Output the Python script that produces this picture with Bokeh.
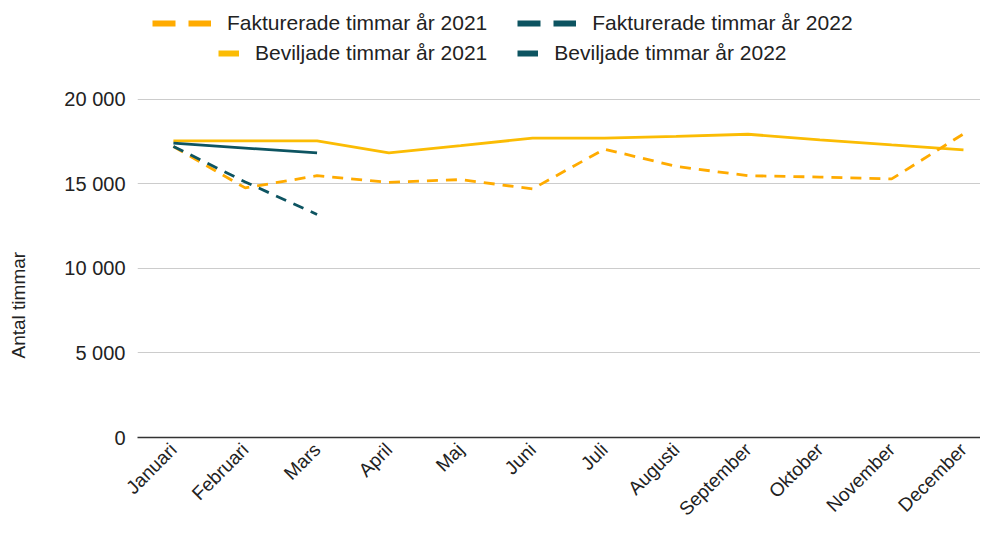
import math
from bokeh.plotting import figure
from bokeh.models import (ColumnDataSource, Range1d, FixedTicker, Legend, LegendItem, Title)
from bokeh.embed import file_html
from bokeh.resources import INLINE

months = ["Januari", "Februari", "Mars", "April", "Maj", "Juni", "Juli",
          "Augusti", "September", "Oktober", "November", "December"]
fakturerade_2021 = [17200, 14750, 15470, 15080, 15240, 14690, 17040, 16020, 15470, 15390, 15280, 17940]
beviljade_2021 = [17530, 17530, 17530, 16820, 17250, 17690, 17690, 17790, 17920, 17590, 17290, 17000]
fakturerade_2022 = [17200, 15100, 13180]
beviljade_2022 = [17390, 17100, 16820]
y_ticks = [0, 5000, 10000, 15000, 20000]
y_tick_labels = ["0", "5 000", "10 000", "15 000", "20 000"]
series_names = ["Fakturerade timmar år 2021", "Fakturerade timmar år 2022",
                "Beviljade timmar år 2021", "Beviljade timmar år 2022"]
y_title = "Antal timmar"

FONT = "Liberation Sans"
ORANGE = "#FFAB00"
YELLOW = "#FBBC04"
TEAL = "#0D5461"
TXT = "#222222"
NAN = float("nan")

idx = list(range(len(months)))

# frame spans to the top of the canvas so the legends can sit inside it;
# the grid/ticks stop at 20 000
p = figure(width=980, height=530, output_backend="svg", toolbar_location=None,
           x_range=Range1d(-0.5, 11.237), y_range=Range1d(0, 25823),
           min_border_left=137, min_border_right=0, min_border_top=0,
           min_border_bottom=91)
p.outline_line_color = None
p.background_fill_color = "white"
p.border_fill_color = "white"

s_f21 = ColumnDataSource(dict(x=idx, y=fakturerade_2021))
s_b21 = ColumnDataSource(dict(x=idx, y=beviljade_2021))
s_f22 = ColumnDataSource(dict(x=idx[:len(fakturerade_2022)], y=fakturerade_2022))
s_b22 = ColumnDataSource(dict(x=idx[:len(beviljade_2022)], y=beviljade_2022))

p.line("x", "y", source=s_b21, line_color=YELLOW, line_width=2.8)
p.line("x", "y", source=s_f21, line_color=ORANGE, line_width=2.8, line_dash="11 8")
p.line("x", "y", source=s_b22, line_color=TEAL, line_width=2.8)
p.line("x", "y", source=s_f22, line_color=TEAL, line_width=2.8, line_dash="11 8")

# legend-only renderers (thicker swatches, like the reference legend)
def swatch(color, dash="solid"):
    return p.line("x", "y", source=ColumnDataSource(dict(x=[NAN], y=[NAN])),
                  line_color=color, line_width=6, line_dash=dash)

lg_f21 = swatch(ORANGE, "23 13")
lg_f22 = swatch(TEAL, "23 13")
lg_b21 = swatch(YELLOW)
lg_b22 = swatch(TEAL)

def make_legend(items, gw, loc):
    return Legend(items=items, orientation="horizontal", location=loc,
                  glyph_width=gw, glyph_height=20, label_standoff=16, spacing=30,
                  padding=0, margin=0, border_line_color=None,
                  background_fill_alpha=0, label_text_font=FONT,
                  label_text_font_size="21px", label_text_color=TXT,
                  label_text_baseline="middle")

leg1 = make_legend([LegendItem(label=series_names[0], renderers=[lg_f21]),
                    LegendItem(label=series_names[1], renderers=[lg_f22])], 59, (15, 402))
leg2 = make_legend([LegendItem(label=series_names[2], renderers=[lg_b21]),
                    LegendItem(label=series_names[3], renderers=[lg_b22])], 21, (81, 372))
p.add_layout(leg1, "center")
p.add_layout(leg2, "center")

# axes
p.yaxis.ticker = FixedTicker(ticks=y_ticks)
p.yaxis.major_label_overrides = {t: l for t, l in zip(y_ticks, y_tick_labels)}
p.yaxis.axis_line_color = None
p.yaxis.major_tick_line_color = None
p.yaxis.minor_tick_line_color = None
p.yaxis.major_tick_out = 0
p.yaxis.major_tick_in = 0
p.yaxis.minor_tick_out = 0
p.yaxis.major_label_standoff = 12
p.yaxis.major_label_text_font = FONT
p.yaxis.major_label_text_font_size = "20px"
p.yaxis.major_label_text_color = TXT

p.xaxis.ticker = FixedTicker(ticks=idx)
p.xaxis.major_label_overrides = {i: m for i, m in zip(idx, months)}
p.xaxis.major_label_orientation = math.pi / 4
p.xaxis.axis_line_color = "#333333"
p.xaxis.axis_line_width = 1.5
p.xaxis.major_tick_line_color = None
p.xaxis.minor_tick_line_color = None
p.xaxis.major_tick_out = 0
p.xaxis.major_tick_in = 0
p.xaxis.minor_tick_out = 0
p.xaxis.major_label_standoff = 9
p.xaxis.major_label_text_font = FONT
p.xaxis.major_label_text_font_size = "19px"
p.xaxis.major_label_text_color = TXT

p.xgrid.grid_line_color = None
p.ygrid.grid_line_color = "#cccccc"
p.ygrid.grid_line_width = 1

# spacer between the tick labels and the axis title, then the title itself
p.add_layout(Title(text=" ", standoff=20, text_font=FONT, text_font_size="1px"), "left")
p.add_layout(Title(text=y_title, align="left", offset=79, vertical_align="top",
                   standoff=15, text_font=FONT, text_font_size="19px",
                   text_font_style="normal", text_color=TXT), "left")

open("out.html", "w").write(file_html(p, INLINE))
